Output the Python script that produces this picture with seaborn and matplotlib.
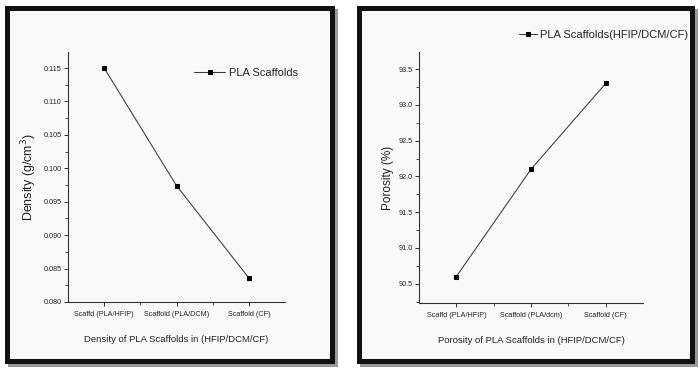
import matplotlib
matplotlib.use("Agg")
import matplotlib.pyplot as plt
import seaborn as sns
import pandas as pd
from matplotlib.patches import Rectangle
from matplotlib.ticker import MultipleLocator, FixedLocator

# ---- data ----
density_categories = ["Scaffd (PLA/HFIP)", "Scaffold (PLA/DCM)", "Scaffold (CF)"]
density_values = [0.1150, 0.0974, 0.0836]
porosity_categories = ["Scaffd (PLA/HFIP)", "Scaffold (PLA/dcm)", "Scaffold (CF)"]
porosity_values = [90.6, 92.1, 93.3]
density_ticks = [0.080, 0.085, 0.090, 0.095, 0.100, 0.105, 0.110, 0.115]
porosity_ticks = [90.5, 91.0, 91.5, 92.0, 92.5, 93.0, 93.5]

sns.set_style("white")
plt.rcParams['font.family'] = ['Liberation Sans', 'DejaVu Sans']

W, H = 700, 372
fig = plt.figure(figsize=(W / 100, H / 100), dpi=100)
fig.patch.set_facecolor("white")

def px_rect(x0, y0, x1, y1, **kw):
    return Rectangle((x0 / W, 1 - y1 / H), (x1 - x0) / W, (y1 - y0) / H,
                     transform=fig.transFigure, **kw)

# panel frames with shadow
for (x0, y0, x1, y1) in [(5, 6, 335, 364), (357, 6, 695, 364)]:
    fig.patches.append(px_rect(x0 + 3, y0 + 3, x1 + 3, y1 + 3, facecolor="#9a9a9a",
                               edgecolor="none", zorder=-3))
    fig.patches.append(px_rect(x0, y0, x1, y1, facecolor="#111111",
                               edgecolor="none", zorder=-2))
    fig.patches.append(px_rect(x0 + 5, y0 + 5, x1 - 5, y1 - 5, facecolor="#f9f9f9",
                               edgecolor="none", zorder=-1))

def style_axes(ax):
    ax.set_zorder(2)
    ax.set_facecolor("none")
    for s in ["top", "right"]:
        ax.spines[s].set_visible(False)
    for s in ["left", "bottom"]:
        ax.spines[s].set_color("#333333")
        ax.spines[s].set_linewidth(0.8)
    ax.tick_params(axis="both", which="major", direction="out", length=3,
                   width=0.7, color="#333333", labelsize=5.2, pad=1.5,
                   left=True, bottom=True, labelcolor="#222222")
    ax.tick_params(axis="x", which="major", labelsize=5.2, pad=3.5)
    ax.tick_params(axis="both", which="minor", direction="out", length=2,
                   width=0.6, color="#333333", left=True, bottom=True)
    ax.set_xlim(-0.5, 2.5)
    ax.xaxis.set_minor_locator(FixedLocator([0.5, 1.5]))

line_kw = dict(sort=False, marker="s", markersize=3, color="#3a3a3a",
               linewidth=0.75, markerfacecolor="black", markeredgecolor="black")

# ---- left: density ----
ax1 = fig.add_axes([68 / W, 1 - 302 / H, (285 - 68) / W, (302 - 52) / H])
df1 = pd.DataFrame({"cat": density_categories, "val": density_values})
sns.lineplot(data=df1, x="cat", y="val", ax=ax1, label="PLA Scaffolds", **line_kw)
style_axes(ax1)
ax1.set_ylim(0.080, 0.1174)
ax1.set_yticks(density_ticks)
ax1.set_yticklabels([f"{t:.3f}" for t in density_ticks])
ax1.yaxis.set_minor_locator(MultipleLocator(0.0025))
ax1.set_xlabel("Density of PLA Scaffolds in (HFIP/DCM/CF)", fontsize=6.8,
               color="#222222", labelpad=12)
ax1.set_ylabel("Density (g/cm$^3$)", fontsize=9, color="#222222", labelpad=3)
ax1.legend(loc="center left", bbox_to_anchor=(0.581, 0.916), frameon=False,
           fontsize=8, handlelength=2.8, handletextpad=0.3, borderaxespad=0,
           borderpad=0)

# ---- right: porosity ----
ax2 = fig.add_axes([419 / W, 1 - 303 / H, (643 - 419) / W, (303 - 52) / H])
df2 = pd.DataFrame({"cat": porosity_categories, "val": porosity_values})
sns.lineplot(data=df2, x="cat", y="val", ax=ax2, label="PLA Scaffolds(HFIP/DCM/CF)",
             **line_kw)
style_axes(ax2)
ax2.set_ylim(90.23, 93.74)
ax2.set_yticks(porosity_ticks)
ax2.set_yticklabels([f"{t:.1f}" for t in porosity_ticks])
ax2.yaxis.set_minor_locator(MultipleLocator(0.25))
ax2.set_xlabel("Porosity of PLA Scaffolds in (HFIP/DCM/CF)", fontsize=6.8,
               color="#222222", labelpad=12)
ax2.set_ylabel("Porosity (%)", fontsize=8.5, color="#222222", labelpad=3)
ax2.legend(loc="center left", bbox_to_anchor=(0.446, 1.068), frameon=False,
           fontsize=8, handlelength=1.6, handletextpad=0.3, borderaxespad=0,
           borderpad=0)

fig.savefig("out.png", dpi=100, facecolor=fig.get_facecolor())
